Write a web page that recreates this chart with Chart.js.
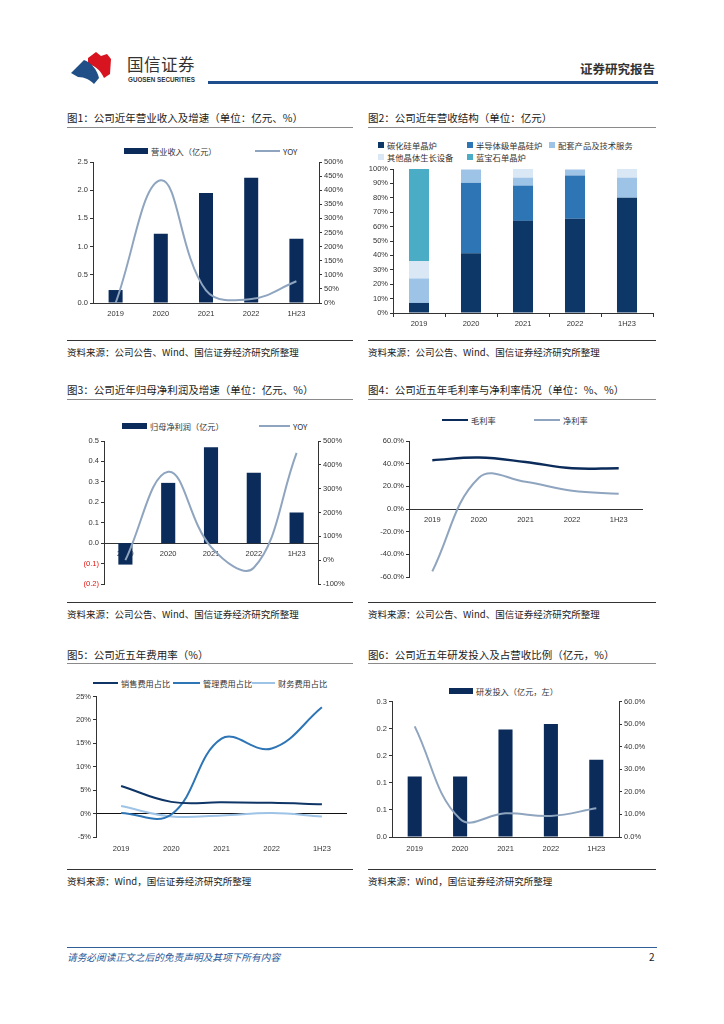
<!DOCTYPE html>
<html>
<head>
<meta charset="utf-8">
<script src="https://cdn.jsdelivr.net/npm/chart.js@4.4.0/dist/chart.umd.min.js"></script>
<style>
  body { margin: 0; width: 724px; height: 1024px; background: #fff; position: relative; overflow: hidden;
         font-family: "Noto Sans CJK SC", "Noto Sans", sans-serif; color: #222; }
  .abs { position: absolute; white-space: nowrap; }
  .title { font-size: 10.5px; line-height: 14px; color: #1a1a1a; }
  .tline { position: absolute; height: 0; border-top: 1.5px solid #8a8a8a; }
  .sline { position: absolute; height: 0; border-top: 1px solid #333; }
  .src { font-size: 9.5px; line-height: 12px; color: #222; }
  canvas { position: absolute; }
  .leg { position: absolute; font-size: 8.2px; line-height: 10px; color: #333; white-space: nowrap; }
  .leg i { display: inline-block; vertical-align: middle; margin-right: 3px; }
  .leg span { vertical-align: middle; }
</style>
</head>
<body>

<!-- 页眉 -->
<svg class="abs" style="left:70px;top:51px" width="44" height="34" viewBox="0 0 44 34">
  <path d="M18 7 L26 1 L31 5 L37 3 L41 8 L40 23 L34 27 C31 20 26 15 18 13 Z" fill="#d7141f"/>
  <path d="M1 22 L14 9 C22 12 27 19 29 27 L24 33 C20 29 15 26 8 26 Z" fill="#1f4f86"/>
</svg>
<div class="abs" style="left:127px;top:54px;font-size:16.5px;line-height:20px;color:#333;letter-spacing:0.5px">国信证券</div>
<div class="abs" style="left:128px;top:76px;font-size:6.3px;line-height:8px;font-weight:bold;color:#333;font-family:'Liberation Sans',sans-serif">GUOSEN SECURITIES</div>
<div class="abs" style="left:580px;top:61px;font-size:12.5px;line-height:16px;font-weight:bold;color:#333">证券研究报告</div>
<div class="abs" style="left:208px;top:81px;width:450px;height:3px;background:#1f4e8c"></div>

<!-- 标题 -->
<div class="abs title" style="left:67px;top:111px">图1：公司近年营业收入及增速（单位：亿元、%）</div>
<div class="abs title" style="left:368px;top:111px">图2：公司近年营收结构（单位：亿元）</div>
<div class="tline" style="left:67px;top:127px;width:286px"></div>
<div class="tline" style="left:368px;top:127px;width:288px"></div>

<div class="abs title" style="left:67px;top:383px">图3：公司近年归母净利润及增速（单位：亿元、%）</div>
<div class="abs title" style="left:368px;top:383px">图4：公司近五年毛利率与净利率情况（单位：%、%）</div>
<div class="tline" style="left:67px;top:399px;width:286px"></div>
<div class="tline" style="left:368px;top:399px;width:288px"></div>

<div class="abs title" style="left:67px;top:648px">图5：公司近五年费用率（%）</div>
<div class="abs title" style="left:368px;top:648px">图6：公司近五年研发投入及占营收比例（亿元，%）</div>
<div class="tline" style="left:67px;top:663px;width:286px"></div>
<div class="tline" style="left:368px;top:663px;width:288px"></div>

<!-- 图例 -->
<div class="leg" style="left:124px;top:144px"><i style="width:24px;height:6px;background:#0b2b5a"></i><span>营业收入（亿元）</span></div>
<div class="leg" style="left:255px;top:144px"><i style="width:25px;height:2px;background:#8fa5bf"></i><span>YOY</span></div>

<div class="leg" style="left:378px;top:138px;font-size:8.3px"><i style="width:6px;height:6px;background:#0d3766"></i><span>碳化硅单晶炉</span></div>
<div class="leg" style="left:467px;top:138px;font-size:8.3px"><i style="width:6px;height:6px;background:#2e75b6"></i><span>半导体级单晶硅炉</span></div>
<div class="leg" style="left:549px;top:138px;font-size:8.3px"><i style="width:6px;height:6px;background:#9dc3e6"></i><span>配套产品及技术服务</span></div>
<div class="leg" style="left:378px;top:150px;font-size:8.3px"><i style="width:6px;height:6px;background:#dae8f5"></i><span>其他晶体生长设备</span></div>
<div class="leg" style="left:467px;top:150px;font-size:8.3px"><i style="width:6px;height:6px;background:#4bacc6"></i><span>蓝宝石单晶炉</span></div>

<div class="leg" style="left:122px;top:419px"><i style="width:25px;height:6px;background:#0b2b5a"></i><span>归母净利润（亿元）</span></div>
<div class="leg" style="left:259px;top:419px"><i style="width:31px;height:2px;background:#8fa5bf"></i><span>YOY</span></div>

<div class="leg" style="left:442px;top:413px"><i style="width:26px;height:2px;background:#0b2b5a"></i><span>毛利率</span></div>
<div class="leg" style="left:534px;top:413px"><i style="width:26px;height:2px;background:#8fa5bf"></i><span>净利率</span></div>

<div class="leg" style="left:93px;top:676px"><i style="width:25px;height:2px;background:#0f3566"></i><span>销售费用占比</span></div>
<div class="leg" style="left:173px;top:676px"><i style="width:27px;height:2px;background:#2e75b6"></i><span>管理费用占比</span></div>
<div class="leg" style="left:252px;top:676px"><i style="width:23px;height:2px;background:#9dc3e6"></i><span>财务费用占比</span></div>

<div class="leg" style="left:449px;top:684px"><i style="width:24px;height:6px;background:#0b2b5a"></i><span>研发投入（亿元，左）</span></div>

<!-- 图表 -->
<canvas id="c1" width="300" height="170" style="left:60px;top:155px"></canvas>
<canvas id="c2" width="300" height="170" style="left:360px;top:160px"></canvas>
<canvas id="c3" width="300" height="160" style="left:60px;top:432px"></canvas>
<canvas id="c4" width="300" height="155" style="left:360px;top:432px"></canvas>
<canvas id="c5" width="300" height="168" style="left:60px;top:690px"></canvas>
<canvas id="c6" width="300" height="163" style="left:360px;top:695px"></canvas>

<!-- 资料来源 -->
<div class="sline" style="left:67px;top:340px;width:286px"></div>
<div class="sline" style="left:368px;top:340px;width:288px"></div>
<div class="abs src" style="left:67px;top:346px">资料来源：公司公告、Wind、国信证券经济研究所整理</div>
<div class="abs src" style="left:368px;top:346px">资料来源：公司公告、Wind、国信证券经济研究所整理</div>

<div class="sline" style="left:67px;top:602px;width:286px"></div>
<div class="sline" style="left:368px;top:602px;width:288px"></div>
<div class="abs src" style="left:67px;top:608px">资料来源：公司公告、Wind、国信证券经济研究所整理</div>
<div class="abs src" style="left:368px;top:608px">资料来源：公司公告、Wind、国信证券经济研究所整理</div>

<div class="sline" style="left:67px;top:869px;width:286px"></div>
<div class="sline" style="left:368px;top:869px;width:288px"></div>
<div class="abs src" style="left:67px;top:875px">资料来源：Wind，国信证券经济研究所整理</div>
<div class="abs src" style="left:368px;top:875px">资料来源：Wind，国信证券经济研究所整理</div>

<!-- 页脚 -->
<div class="abs" style="left:67px;top:947px;width:590px;height:1px;background:#2f5f95"></div>
<div class="abs" style="left:67px;top:951px;font-size:9.7px;line-height:12px;font-style:italic;color:#2b5797">请务必阅读正文之后的免责声明及其项下所有内容</div>
<div class="abs" style="left:649px;top:951px;font-size:10px;line-height:12px;color:#222">2</div>

<script>
// 年份
const years = ['2019', '2020', '2021', '2022', '1H23'];

// 图1 营业收入（亿元）及增速（%）
const revenue = [0.23, 1.23, 1.95, 2.22, 1.14];
const revenueYoy = [0, 435, 45, 14, 77];

// 图2 营收结构（%）
const sicFurnace = [7, 41.5, 64, 65.5, 80];
const semiFurnace = [0, 49, 24.5, 30, 0];
const supportService = [17, 9, 5.5, 4, 14];
const otherCrystal = [12, 0.5, 6, 0.5, 6];
const sapphireFurnace = [64, 0, 0, 0, 0];

// 图3 归母净利润（亿元）及增速（%）
const netProfit = [-0.105, 0.295, 0.47, 0.345, 0.15];
const netProfitYoy = [0, 371, 56, -32, 450];

// 图4 毛利率、净利率（%）
const grossMargin = [43, 45.4, 41.5, 36, 36];
const netMargin = [-55, 27.6, 24, 16, 13.4];

// 图5 费用率（%）
const sellingRatio = [5.9, 2.5, 2.4, 2.3, 2.0];
const adminRatio = [0.1, -0.2, 16, 13.9, 22.7];
const financeRatio = [1.6, -0.6, -0.4, 0.1, -0.6];

// 图6 研发投入（亿元）及占营收比例（%）
const rdExpense = [0.134, 0.134, 0.238, 0.25, 0.171];
const rdRatio = [49, 8, 10.5, 9.3, 12.7];
const rdLeftTicks = ['0.0', '0.1', '0.1', '0.2', '0.2', '0.3'];

const navy = '#0b2b5a';
const yoyColor = '#8fa5bf';
const axisColor = '#333';
const tickFont = { family: 'Liberation Sans, Arial, sans-serif', size: 7.5 };

Chart.defaults.animation = false;
Chart.defaults.responsive = false;
Chart.defaults.plugins.legend.display = false;
Chart.defaults.plugins.tooltip.enabled = false;
Chart.defaults.color = axisColor;

// 纵轴（带刻度线）
function sideAxis(position, width, min, max, step, fmt) {
  return {
    position: position,
    min: min,
    max: max,
    ticks: { stepSize: step, font: tickFont, color: axisColor, padding: 2, callback: fmt },
    grid: { drawOnChartArea: false, drawTicks: true, tickLength: 3, color: axisColor, tickColor: axisColor },
    border: { color: axisColor, width: 1 },
    afterFit: function (s) { s.width = width; }
  };
}

// 横轴
function catAxis(height, padding, extra) {
  return Object.assign({
    offset: true,
    ticks: { font: tickFont, color: axisColor, padding: padding, maxRotation: 0 },
    grid: { display: false, drawTicks: false },
    border: { color: axisColor, width: 1 },
    afterFit: function (s) { s.height = height; }
  }, extra || {});
}

function lineSet(label, data, color, width, axis) {
  return {
    type: 'line', label: label, data: data, yAxisID: axis || 'y',
    borderColor: color, borderWidth: width, pointRadius: 0, tension: 0.4,
    fill: false, order: 0
  };
}

function barSet(label, data, color, pct) {
  return {
    type: 'bar', label: label, data: data, backgroundColor: color,
    barPercentage: pct, categoryPercentage: 1, order: 1
  };
}

// 图1
new Chart(document.getElementById('c1'), {
  data: {
    labels: years,
    datasets: [
      lineSet('YOY', revenueYoy, yoyColor, 2, 'y1'),
      barSet('营业收入（亿元）', revenue, navy, 0.31)
    ]
  },
  options: {
    layout: { padding: { top: 7, right: 0, left: 0, bottom: 0 } },
    scales: {
      x: catAxis(22, 6),
      y: sideAxis('left', 33, 0, 2.5, 0.5, function (v) { return v.toFixed(1); }),
      y1: sideAxis('right', 41, 0, 500, 50, function (v) { return v + '%'; })
    }
  }
});

// 图2
new Chart(document.getElementById('c2'), {
  type: 'bar',
  data: {
    labels: years,
    datasets: [
      barSet('碳化硅单晶炉', sicFurnace, '#0d3766', 0.385),
      barSet('半导体级单晶硅炉', semiFurnace, '#2e75b6', 0.385),
      barSet('配套产品及技术服务', supportService, '#9dc3e6', 0.385),
      barSet('其他晶体生长设备', otherCrystal, '#dae8f5', 0.385),
      barSet('蓝宝石单晶炉', sapphireFurnace, '#4bacc6', 0.385)
    ]
  },
  options: {
    layout: { padding: { top: 9, right: 7, left: 0, bottom: 0 } },
    scales: {
      x: catAxis(17, 2, {
        stacked: true,
        grid: { display: true, drawOnChartArea: false, drawTicks: true, tickLength: 4, color: axisColor, offset: true }
      }),
      y: Object.assign(sideAxis('left', 33, 0, 100, 10, function (v) { return v + '%'; }), { stacked: true })
    }
  }
});

// 图3
const c3y = sideAxis('left', 44, -0.2, 0.5, 0.1, function (v) {
  return v < -0.001 ? '(' + Math.abs(v).toFixed(1) + ')' : Math.abs(v).toFixed(1);
});
c3y.ticks.color = function (ctx) { return ctx.tick && ctx.tick.value < -0.001 ? '#e3120b' : axisColor; };
new Chart(document.getElementById('c3'), {
  data: {
    labels: years,
    datasets: [
      lineSet('YOY', netProfitYoy, yoyColor, 2, 'y1'),
      barSet('归母净利润（亿元）', netProfit, navy, 0.33)
    ]
  },
  options: {
    layout: { padding: { top: 9, right: 0, left: 0, bottom: 8 } },
    scales: {
      x: catAxis(0, 6, { position: { y: 0 } }),
      y: c3y,
      y1: sideAxis('right', 42, -100, 500, 100, function (v) { return v + '%'; })
    }
  }
});

// 图4
new Chart(document.getElementById('c4'), {
  type: 'line',
  data: {
    labels: years,
    datasets: [
      lineSet('毛利率', grossMargin, '#0b2b5a', 2.4),
      lineSet('净利率', netMargin, yoyColor, 2)
    ]
  },
  options: {
    layout: { padding: { top: 9, right: 18, left: 0, bottom: 10 } },
    scales: {
      x: catAxis(0, 6, { position: { y: 0 } }),
      y: sideAxis('left', 49, -60, 60, 20, function (v) { return v.toFixed(1) + '%'; })
    }
  }
});

// 图5
const c5y = sideAxis('left', 36, -5, 25, 5, function (v) { return v + '%'; });
c5y.grid = {
  drawOnChartArea: true, drawTicks: true, tickLength: 3, tickColor: axisColor,
  color: function (ctx) { return ctx.tick && ctx.tick.value === 0 ? '#111' : 'rgba(0,0,0,0)'; }
};
new Chart(document.getElementById('c5'), {
  type: 'line',
  data: {
    labels: years,
    datasets: [
      lineSet('销售费用占比', sellingRatio, '#0f3566', 2),
      lineSet('管理费用占比', adminRatio, '#2e75b6', 2),
      lineSet('财务费用占比', financeRatio, '#9dc3e6', 2)
    ]
  },
  options: {
    layout: { padding: { top: 6, right: 13, left: 0, bottom: 0 } },
    scales: {
      x: catAxis(21, 7, { border: { display: false } }),
      y: c5y
    }
  }
});

// 图6
new Chart(document.getElementById('c6'), {
  data: {
    labels: years,
    datasets: [
      lineSet('研发投入占营收比例', rdRatio, yoyColor, 2, 'y1'),
      barSet('研发投入（亿元，左）', rdExpense, navy, 0.31)
    ]
  },
  options: {
    layout: { padding: { top: 5, right: 0, left: 0, bottom: 0 } },
    scales: {
      x: catAxis(21, 7),
      y: sideAxis('left', 32, 0, 0.3, 0.06, function (v, i) { return rdLeftTicks[i]; }),
      y1: sideAxis('right', 41, 0, 60, 10, function (v) { return v.toFixed(1) + '%'; })
    }
  }
});
</script>
</body>
</html>
